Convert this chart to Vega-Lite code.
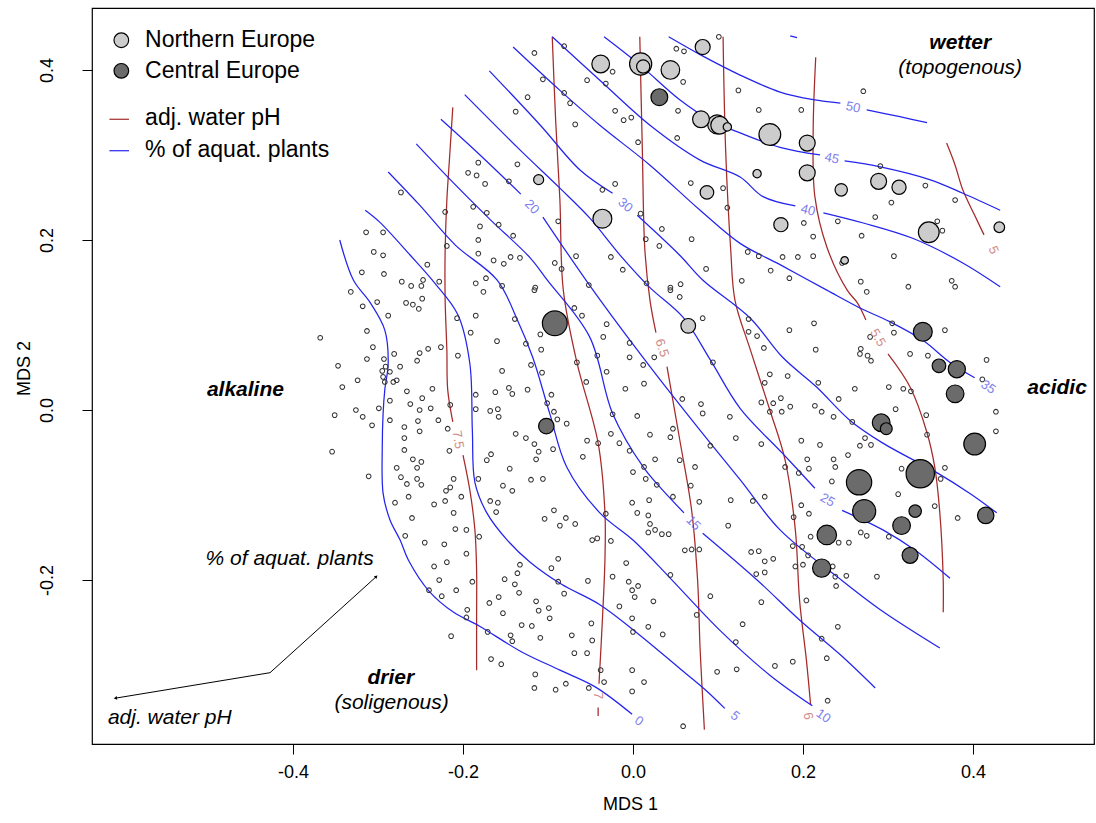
{
"$schema":"https://vega.github.io/schema/vega-lite/v6.json",
"width":1002,"height":736,
"autosize":{"type":"none"},
"padding":{"left":92,"top":8,"right":2,"bottom":79},
"background":"white",
"config":{"view":{"stroke":"#000","strokeWidth":1.2},"font":"Liberation Sans",
"axis":{"grid":false,"domain":false,"tickColor":"#000","tickSize":10,"labelColor":"#000","labelFontSize":18,"titleFontSize":18,"titleFontWeight":"normal","titleColor":"#000","labelFont":"Liberation Sans","titleFont":"Liberation Sans"}},
"datasets":{
"lines":[
{"g":"p75a","v":"pH","i":0,"x":-0.212,"y":0.356},{"g":"p75a","v":"pH","i":1,"x":-0.216,"y":0.294},{"g":"p75a","v":"pH","i":2,"x":-0.219,"y":0.247},{"g":"p75a","v":"pH","i":3,"x":-0.221,"y":0.188},{"g":"p75a","v":"pH","i":4,"x":-0.221,"y":0.129},{"g":"p75a","v":"pH","i":5,"x":-0.219,"y":0.071},{"g":"p75a","v":"pH","i":6,"x":-0.218,"y":0.024},{"g":"p75a","v":"pH","i":7,"x":-0.212,"y":-0.014},
{"g":"p75b","v":"pH","i":0,"x":-0.200,"y":-0.053},{"g":"p75b","v":"pH","i":1,"x":-0.192,"y":-0.094},{"g":"p75b","v":"pH","i":2,"x":-0.186,"y":-0.141},{"g":"p75b","v":"pH","i":3,"x":-0.184,"y":-0.188},{"g":"p75b","v":"pH","i":4,"x":-0.184,"y":-0.247},{"g":"p75b","v":"pH","i":5,"x":-0.184,"y":-0.306},
{"g":"p7a","v":"pH","i":0,"x":-0.095,"y":0.439},{"g":"p7a","v":"pH","i":1,"x":-0.091,"y":0.341},{"g":"p7a","v":"pH","i":2,"x":-0.086,"y":0.247},{"g":"p7a","v":"pH","i":3,"x":-0.082,"y":0.141},{"g":"p7a","v":"pH","i":4,"x":-0.066,"y":0.056},{"g":"p7a","v":"pH","i":5,"x":-0.041,"y":-0.039},{"g":"p7a","v":"pH","i":6,"x":-0.033,"y":-0.121},{"g":"p7a","v":"pH","i":7,"x":-0.033,"y":-0.176},{"g":"p7a","v":"pH","i":8,"x":-0.036,"y":-0.247},{"g":"p7a","v":"pH","i":9,"x":-0.040,"y":-0.322},
{"g":"p7b","v":"pH","i":0,"x":-0.041,"y":-0.350},{"g":"p7b","v":"pH","i":1,"x":-0.041,"y":-0.360},
{"g":"p65a","v":"pH","i":0,"x":0.008,"y":0.439},{"g":"p65a","v":"pH","i":1,"x":0.011,"y":0.306},{"g":"p65a","v":"pH","i":2,"x":0.014,"y":0.188},{"g":"p65a","v":"pH","i":3,"x":0.020,"y":0.129},{"g":"p65a","v":"pH","i":4,"x":0.027,"y":0.091},
{"g":"p65b","v":"pH","i":0,"x":0.040,"y":0.051},{"g":"p65b","v":"pH","i":1,"x":0.055,"y":-0.035},{"g":"p65b","v":"pH","i":2,"x":0.069,"y":-0.118},{"g":"p65b","v":"pH","i":3,"x":0.076,"y":-0.200},{"g":"p65b","v":"pH","i":4,"x":0.079,"y":-0.282},{"g":"p65b","v":"pH","i":5,"x":0.084,"y":-0.376},
{"g":"p6","v":"pH","i":0,"x":0.106,"y":0.439},{"g":"p6","v":"pH","i":1,"x":0.109,"y":0.306},{"g":"p6","v":"pH","i":2,"x":0.115,"y":0.188},{"g":"p6","v":"pH","i":3,"x":0.120,"y":0.129},{"g":"p6","v":"pH","i":4,"x":0.138,"y":0.071},{"g":"p6","v":"pH","i":5,"x":0.161,"y":0.000},{"g":"p6","v":"pH","i":6,"x":0.179,"y":-0.059},{"g":"p6","v":"pH","i":7,"x":0.191,"y":-0.141},{"g":"p6","v":"pH","i":8,"x":0.196,"y":-0.224},{"g":"p6","v":"pH","i":9,"x":0.204,"y":-0.294},{"g":"p6","v":"pH","i":10,"x":0.209,"y":-0.347},
{"g":"p55a","v":"pH","i":0,"x":0.215,"y":0.415},{"g":"p55a","v":"pH","i":1,"x":0.212,"y":0.329},{"g":"p55a","v":"pH","i":2,"x":0.214,"y":0.251},{"g":"p55a","v":"pH","i":3,"x":0.228,"y":0.192},{"g":"p55a","v":"pH","i":4,"x":0.252,"y":0.141},{"g":"p55a","v":"pH","i":5,"x":0.264,"y":0.126},{"g":"p55a","v":"pH","i":6,"x":0.274,"y":0.106},
{"g":"p55b","v":"pH","i":0,"x":0.300,"y":0.066},{"g":"p55b","v":"pH","i":1,"x":0.326,"y":0.027},{"g":"p55b","v":"pH","i":2,"x":0.346,"y":-0.027},{"g":"p55b","v":"pH","i":3,"x":0.355,"y":-0.067},{"g":"p55b","v":"pH","i":4,"x":0.361,"y":-0.121},{"g":"p55b","v":"pH","i":5,"x":0.365,"y":-0.200},{"g":"p55b","v":"pH","i":6,"x":0.365,"y":-0.238},
{"g":"p5","v":"pH","i":0,"x":0.369,"y":0.314},{"g":"p5","v":"pH","i":1,"x":0.379,"y":0.288},{"g":"p5","v":"pH","i":2,"x":0.388,"y":0.259},{"g":"p5","v":"pH","i":3,"x":0.402,"y":0.229},{"g":"p5","v":"pH","i":4,"x":0.413,"y":0.206},
{"g":"a0","v":"aq","i":0,"x":-0.345,"y":0.200},{"g":"a0","v":"aq","i":1,"x":-0.329,"y":0.153},{"g":"a0","v":"aq","i":2,"x":-0.309,"y":0.126},{"g":"a0","v":"aq","i":3,"x":-0.292,"y":0.094},{"g":"a0","v":"aq","i":4,"x":-0.288,"y":0.055},{"g":"a0","v":"aq","i":5,"x":-0.292,"y":0.024},{"g":"a0","v":"aq","i":6,"x":-0.294,"y":-0.004},{"g":"a0","v":"aq","i":7,"x":-0.295,"y":-0.044},{"g":"a0","v":"aq","i":8,"x":-0.294,"y":-0.098},{"g":"a0","v":"aq","i":9,"x":-0.286,"y":-0.129},{"g":"a0","v":"aq","i":10,"x":-0.274,"y":-0.153},{"g":"a0","v":"aq","i":11,"x":-0.264,"y":-0.177},{"g":"a0","v":"aq","i":12,"x":-0.240,"y":-0.213},{"g":"a0","v":"aq","i":13,"x":-0.211,"y":-0.238},{"g":"a0","v":"aq","i":14,"x":-0.181,"y":-0.254},{"g":"a0","v":"aq","i":15,"x":-0.132,"y":-0.284},{"g":"a0","v":"aq","i":16,"x":-0.086,"y":-0.306},{"g":"a0","v":"aq","i":17,"x":-0.044,"y":-0.326},{"g":"a0","v":"aq","i":18,"x":-0.001,"y":-0.358},
{"g":"a5","v":"aq","i":0,"x":-0.315,"y":0.235},{"g":"a5","v":"aq","i":1,"x":-0.298,"y":0.221},{"g":"a5","v":"aq","i":2,"x":-0.262,"y":0.182},{"g":"a5","v":"aq","i":3,"x":-0.233,"y":0.149},{"g":"a5","v":"aq","i":4,"x":-0.206,"y":0.112},{"g":"a5","v":"aq","i":5,"x":-0.192,"y":0.055},{"g":"a5","v":"aq","i":6,"x":-0.189,"y":-0.024},{"g":"a5","v":"aq","i":7,"x":-0.186,"y":-0.085},{"g":"a5","v":"aq","i":8,"x":-0.172,"y":-0.121},{"g":"a5","v":"aq","i":9,"x":-0.148,"y":-0.153},{"g":"a5","v":"aq","i":10,"x":-0.121,"y":-0.179},{"g":"a5","v":"aq","i":11,"x":-0.084,"y":-0.205},{"g":"a5","v":"aq","i":12,"x":-0.039,"y":-0.229},{"g":"a5","v":"aq","i":13,"x":0.007,"y":-0.264},{"g":"a5","v":"aq","i":14,"x":0.055,"y":-0.304},{"g":"a5","v":"aq","i":15,"x":0.085,"y":-0.329},{"g":"a5","v":"aq","i":16,"x":0.108,"y":-0.351},
{"g":"a10","v":"aq","i":0,"x":-0.288,"y":0.280},{"g":"a10","v":"aq","i":1,"x":-0.251,"y":0.241},{"g":"a10","v":"aq","i":2,"x":-0.209,"y":0.194},{"g":"a10","v":"aq","i":3,"x":-0.160,"y":0.153},{"g":"a10","v":"aq","i":4,"x":-0.136,"y":0.106},{"g":"a10","v":"aq","i":5,"x":-0.118,"y":0.062},{"g":"a10","v":"aq","i":6,"x":-0.098,"y":-0.004},{"g":"a10","v":"aq","i":7,"x":-0.078,"y":-0.067},{"g":"a10","v":"aq","i":8,"x":-0.039,"y":-0.121},{"g":"a10","v":"aq","i":9,"x":0.000,"y":-0.153},{"g":"a10","v":"aq","i":10,"x":0.044,"y":-0.198},{"g":"a10","v":"aq","i":11,"x":0.102,"y":-0.259},{"g":"a10","v":"aq","i":12,"x":0.161,"y":-0.312},{"g":"a10","v":"aq","i":13,"x":0.211,"y":-0.348},
{"g":"a15a","v":"aq","i":0,"x":-0.255,"y":0.313},{"g":"a15a","v":"aq","i":1,"x":-0.215,"y":0.271},{"g":"a15a","v":"aq","i":2,"x":-0.168,"y":0.224},{"g":"a15a","v":"aq","i":3,"x":-0.121,"y":0.179},{"g":"a15a","v":"aq","i":4,"x":-0.101,"y":0.153},{"g":"a15a","v":"aq","i":5,"x":-0.051,"y":0.086},{"g":"a15a","v":"aq","i":6,"x":-0.024,"y":-0.004},{"g":"a15a","v":"aq","i":7,"x":0.012,"y":-0.067},{"g":"a15a","v":"aq","i":8,"x":0.032,"y":-0.091},{"g":"a15a","v":"aq","i":9,"x":0.060,"y":-0.121},
{"g":"a15b","v":"aq","i":0,"x":0.082,"y":-0.145},{"g":"a15b","v":"aq","i":1,"x":0.146,"y":-0.200},{"g":"a15b","v":"aq","i":2,"x":0.196,"y":-0.247},{"g":"a15b","v":"aq","i":3,"x":0.244,"y":-0.288},{"g":"a15b","v":"aq","i":4,"x":0.285,"y":-0.327},
{"g":"a20a","v":"aq","i":0,"x":-0.226,"y":0.342},{"g":"a20a","v":"aq","i":1,"x":-0.180,"y":0.300},{"g":"a20a","v":"aq","i":2,"x":-0.132,"y":0.254},
{"g":"a20b","v":"aq","i":0,"x":-0.106,"y":0.227},{"g":"a20b","v":"aq","i":1,"x":-0.047,"y":0.141},{"g":"a20b","v":"aq","i":2,"x":0.020,"y":0.051},{"g":"a20b","v":"aq","i":3,"x":0.079,"y":-0.024},{"g":"a20b","v":"aq","i":4,"x":0.126,"y":-0.082},{"g":"a20b","v":"aq","i":5,"x":0.173,"y":-0.141},{"g":"a20b","v":"aq","i":6,"x":0.240,"y":-0.196},{"g":"a20b","v":"aq","i":7,"x":0.291,"y":-0.235},{"g":"a20b","v":"aq","i":8,"x":0.361,"y":-0.280},
{"g":"a25a","v":"aq","i":0,"x":-0.198,"y":0.371},{"g":"a25a","v":"aq","i":1,"x":-0.133,"y":0.306},{"g":"a25a","v":"aq","i":2,"x":-0.086,"y":0.261},{"g":"a25a","v":"aq","i":3,"x":-0.051,"y":0.226},{"g":"a25a","v":"aq","i":4,"x":-0.015,"y":0.182},{"g":"a25a","v":"aq","i":5,"x":0.020,"y":0.144},{"g":"a25a","v":"aq","i":6,"x":0.059,"y":0.109},{"g":"a25a","v":"aq","i":7,"x":0.091,"y":0.059},{"g":"a25a","v":"aq","i":8,"x":0.126,"y":0.002},{"g":"a25a","v":"aq","i":9,"x":0.176,"y":-0.051},{"g":"a25a","v":"aq","i":10,"x":0.214,"y":-0.092},
{"g":"a25b","v":"aq","i":0,"x":0.246,"y":-0.118},{"g":"a25b","v":"aq","i":1,"x":0.294,"y":-0.141},{"g":"a25b","v":"aq","i":2,"x":0.332,"y":-0.165},{"g":"a25b","v":"aq","i":3,"x":0.373,"y":-0.198},
{"g":"a30a","v":"aq","i":0,"x":-0.169,"y":0.399},{"g":"a30a","v":"aq","i":1,"x":-0.109,"y":0.335},{"g":"a30a","v":"aq","i":2,"x":-0.062,"y":0.282},{"g":"a30a","v":"aq","i":3,"x":-0.024,"y":0.255},
{"g":"a30b","v":"aq","i":0,"x":0.005,"y":0.229},{"g":"a30b","v":"aq","i":1,"x":0.055,"y":0.182},{"g":"a30b","v":"aq","i":2,"x":0.082,"y":0.153},{"g":"a30b","v":"aq","i":3,"x":0.138,"y":0.108},{"g":"a30b","v":"aq","i":4,"x":0.176,"y":0.062},{"g":"a30b","v":"aq","i":5,"x":0.216,"y":0.027},{"g":"a30b","v":"aq","i":6,"x":0.255,"y":-0.012},{"g":"a30b","v":"aq","i":7,"x":0.294,"y":-0.039},{"g":"a30b","v":"aq","i":8,"x":0.358,"y":-0.074},{"g":"a30b","v":"aq","i":9,"x":0.396,"y":-0.098},{"g":"a30b","v":"aq","i":10,"x":0.428,"y":-0.121},
{"g":"a35","v":"aq","i":0,"x":-0.141,"y":0.427},{"g":"a35","v":"aq","i":1,"x":-0.086,"y":0.376},{"g":"a35","v":"aq","i":2,"x":-0.039,"y":0.335},{"g":"a35","v":"aq","i":3,"x":0.020,"y":0.288},{"g":"a35","v":"aq","i":4,"x":0.079,"y":0.235},{"g":"a35","v":"aq","i":5,"x":0.126,"y":0.196},{"g":"a35","v":"aq","i":6,"x":0.173,"y":0.171},{"g":"a35","v":"aq","i":7,"x":0.228,"y":0.141},{"g":"a35","v":"aq","i":8,"x":0.267,"y":0.120},{"g":"a35","v":"aq","i":9,"x":0.302,"y":0.104},{"g":"a35","v":"aq","i":10,"x":0.341,"y":0.082},{"g":"a35","v":"aq","i":11,"x":0.373,"y":0.056},{"g":"a35","v":"aq","i":12,"x":0.402,"y":0.038},
{"g":"a40a","v":"aq","i":0,"x":-0.095,"y":0.439},{"g":"a40a","v":"aq","i":1,"x":-0.039,"y":0.388},{"g":"a40a","v":"aq","i":2,"x":0.020,"y":0.335},{"g":"a40a","v":"aq","i":3,"x":0.079,"y":0.294},{"g":"a40a","v":"aq","i":4,"x":0.126,"y":0.274},{"g":"a40a","v":"aq","i":5,"x":0.153,"y":0.251},{"g":"a40a","v":"aq","i":6,"x":0.191,"y":0.240},
{"g":"a40b","v":"aq","i":0,"x":0.224,"y":0.232},{"g":"a40b","v":"aq","i":1,"x":0.271,"y":0.220},{"g":"a40b","v":"aq","i":2,"x":0.329,"y":0.202},{"g":"a40b","v":"aq","i":3,"x":0.388,"y":0.173},{"g":"a40b","v":"aq","i":4,"x":0.432,"y":0.145},
{"g":"a45a","v":"aq","i":0,"x":-0.034,"y":0.439},{"g":"a45a","v":"aq","i":1,"x":0.008,"y":0.406},{"g":"a45a","v":"aq","i":2,"x":0.055,"y":0.365},{"g":"a45a","v":"aq","i":3,"x":0.091,"y":0.341},{"g":"a45a","v":"aq","i":4,"x":0.126,"y":0.326},{"g":"a45a","v":"aq","i":5,"x":0.173,"y":0.309},{"g":"a45a","v":"aq","i":6,"x":0.220,"y":0.300},
{"g":"a45b","v":"aq","i":0,"x":0.249,"y":0.293},{"g":"a45b","v":"aq","i":1,"x":0.291,"y":0.286},{"g":"a45b","v":"aq","i":2,"x":0.349,"y":0.271},{"g":"a45b","v":"aq","i":3,"x":0.388,"y":0.255},{"g":"a45b","v":"aq","i":4,"x":0.432,"y":0.235},
{"g":"a50a","v":"aq","i":0,"x":0.042,"y":0.439},{"g":"a50a","v":"aq","i":1,"x":0.079,"y":0.418},{"g":"a50a","v":"aq","i":2,"x":0.126,"y":0.394},{"g":"a50a","v":"aq","i":3,"x":0.173,"y":0.374},{"g":"a50a","v":"aq","i":4,"x":0.212,"y":0.365},{"g":"a50a","v":"aq","i":5,"x":0.244,"y":0.361},
{"g":"a50b","v":"aq","i":0,"x":0.275,"y":0.353},{"g":"a50b","v":"aq","i":1,"x":0.314,"y":0.345},{"g":"a50b","v":"aq","i":2,"x":0.346,"y":0.338},
{"g":"a55","v":"aq","i":0,"x":0.185,"y":0.440},{"g":"a55","v":"aq","i":1,"x":0.193,"y":0.438}
],
"clab":[
{"k":"a0","v":"aq","t":"0","x":0.007,"y":-0.366},{"k":"a5","v":"aq","t":"5","x":0.120,"y":-0.360},{"k":"a10","v":"aq","t":"10","x":0.224,"y":-0.360},{"k":"a15","v":"aq","t":"15","x":0.071,"y":-0.133},{"k":"a20","v":"aq","t":"20","x":-0.119,"y":0.239},{"k":"a25","v":"aq","t":"25","x":0.229,"y":-0.106},{"k":"a30","v":"aq","t":"30","x":-0.009,"y":0.241},{"k":"a35","v":"aq","t":"35","x":0.418,"y":0.027},{"k":"a40","v":"aq","t":"40","x":0.206,"y":0.235},{"k":"a45","v":"aq","t":"45","x":0.234,"y":0.296},{"k":"a50","v":"aq","t":"50","x":0.259,"y":0.356},
{"k":"p75","v":"pH","t":"7.5","x":-0.206,"y":-0.035},{"k":"p7","v":"pH","t":"7","x":-0.041,"y":-0.336},{"k":"p65","v":"pH","t":"6.5","x":0.034,"y":0.073},{"k":"p6","v":"pH","t":"6","x":0.206,"y":-0.360},{"k":"p55","v":"pH","t":"5.5","x":0.288,"y":0.085},{"k":"p5","v":"pH","t":"5","x":0.424,"y":0.188}
],
"big":[
{"r":"N","n":100,"x":-0.038,"y":0.407},{"r":"N","n":156,"x":0.009,"y":0.407},{"r":"N","n":56,"x":0.012,"y":0.404},{"r":"N","n":110,"x":0.044,"y":0.400},{"r":"N","n":72,"x":0.082,"y":0.427},{"r":"N","n":90,"x":0.080,"y":0.342},{"r":"N","n":114,"x":0.099,"y":0.336},{"r":"N","n":100,"x":0.102,"y":0.335},{"r":"N","n":22,"x":0.111,"y":0.333},{"r":"N","n":32,"x":-0.111,"y":0.271},{"r":"N","n":114,"x":-0.036,"y":0.225},{"r":"N","n":59,"x":0.087,"y":0.256},{"r":"N","n":151,"x":0.161,"y":0.324},{"r":"N","n":81,"x":0.205,"y":0.314},{"r":"N","n":81,"x":0.205,"y":0.279},{"r":"N","n":22,"x":0.146,"y":0.278},{"r":"N","n":49,"x":0.245,"y":0.259},{"r":"N","n":81,"x":0.289,"y":0.269},{"r":"N","n":64,"x":0.313,"y":0.262},{"r":"N","n":64,"x":0.174,"y":0.218},{"r":"N","n":137,"x":0.348,"y":0.209},{"r":"N","n":36,"x":0.431,"y":0.215},{"r":"N","n":18,"x":0.249,"y":0.176},{"r":"N","n":69,"x":0.065,"y":0.099},
{"r":"C","n":90,"x":0.031,"y":0.368},{"r":"C","n":196,"x":-0.092,"y":0.102},{"r":"C","n":76,"x":-0.102,"y":-0.019},{"r":"C","n":114,"x":0.341,"y":0.092},{"r":"C","n":59,"x":0.360,"y":0.052},{"r":"C","n":94,"x":0.381,"y":0.048},{"r":"C","n":100,"x":0.379,"y":0.019},{"r":"C","n":100,"x":0.292,"y":-0.015},{"r":"C","n":45,"x":0.298,"y":-0.022},{"r":"C","n":151,"x":0.402,"y":-0.040},{"r":"C","n":204,"x":0.266,"y":-0.085},{"r":"C","n":256,"x":0.338,"y":-0.075},{"r":"C","n":169,"x":0.272,"y":-0.119},{"r":"C","n":49,"x":0.332,"y":-0.119},{"r":"C","n":100,"x":0.316,"y":-0.136},{"r":"C","n":86,"x":0.415,"y":-0.124},{"r":"C","n":121,"x":0.228,"y":-0.147},{"r":"C","n":81,"x":0.326,"y":-0.171},{"r":"C","n":106,"x":0.222,"y":-0.186}
],
"pts":[
{"x":-0.116,"y":0.420},{"x":-0.081,"y":0.428},{"x":-0.106,"y":0.389},{"x":-0.124,"y":0.368},{"x":-0.138,"y":0.351},{"x":-0.081,"y":0.373},{"x":-0.074,"y":0.361},{"x":-0.068,"y":0.336},{"x":-0.054,"y":0.388},{"x":-0.032,"y":0.384},{"x":-0.024,"y":0.398},{"x":-0.021,"y":0.352},{"x":-0.011,"y":0.341},{"x":-0.002,"y":0.344},{"x":0.006,"y":0.315},{"x":0.052,"y":0.320},{"x":0.053,"y":0.352},{"x":0.059,"y":0.386},{"x":0.051,"y":0.425},{"x":0.060,"y":0.422},{"x":0.101,"y":0.439},{"x":0.124,"y":0.376},{"x":-0.182,"y":0.291},{"x":-0.194,"y":0.279},{"x":-0.184,"y":0.276},{"x":-0.174,"y":0.266},{"x":-0.136,"y":0.289},{"x":-0.146,"y":0.269},{"x":-0.273,"y":0.256},{"x":-0.221,"y":0.233},{"x":-0.188,"y":0.239},{"x":-0.172,"y":0.232},{"x":-0.180,"y":0.216},{"x":-0.158,"y":0.218},{"x":-0.182,"y":0.200},{"x":-0.141,"y":0.205},{"x":-0.182,"y":0.184},{"x":-0.164,"y":0.176},{"x":-0.152,"y":0.172},{"x":-0.144,"y":0.180},{"x":-0.133,"y":0.179},{"x":-0.219,"y":0.193},{"x":-0.242,"y":0.171},{"x":-0.228,"y":0.151},{"x":-0.247,"y":0.153},{"x":-0.261,"y":0.146},{"x":-0.272,"y":0.151},{"x":-0.249,"y":0.146},{"x":-0.294,"y":0.209},{"x":-0.294,"y":0.182},{"x":-0.293,"y":0.160},{"x":-0.173,"y":0.155},{"x":-0.185,"y":0.149},{"x":-0.154,"y":0.146},{"x":-0.115,"y":0.144},{"x":-0.092,"y":0.173},{"x":-0.084,"y":0.166},{"x":-0.088,"y":0.222},{"x":-0.067,"y":0.181},{"x":-0.052,"y":0.147},{"x":-0.036,"y":0.259},{"x":-0.021,"y":0.266},{"x":-0.026,"y":0.180},{"x":-0.012,"y":0.165},{"x":0.015,"y":0.201},{"x":0.031,"y":0.193},{"x":0.034,"y":0.213},{"x":0.009,"y":0.231},{"x":0.068,"y":0.267},{"x":0.106,"y":0.261},{"x":0.111,"y":0.238},{"x":0.069,"y":0.201},{"x":0.086,"y":0.166},{"x":0.056,"y":0.148},{"x":0.044,"y":0.144},{"x":-0.305,"y":0.186},{"x":-0.319,"y":0.162},{"x":-0.332,"y":0.139},{"x":-0.314,"y":0.209},
{"x":0.271,"y":0.375},{"x":0.148,"y":0.353},{"x":0.198,"y":0.353},{"x":0.291,"y":0.287},{"x":0.344,"y":0.264},{"x":0.304,"y":0.244},{"x":0.379,"y":0.247},{"x":0.285,"y":0.227},{"x":0.201,"y":0.220},{"x":0.241,"y":0.222},{"x":0.212,"y":0.204},{"x":0.269,"y":0.205},{"x":0.358,"y":0.222},{"x":0.364,"y":0.211},{"x":0.135,"y":0.186},{"x":0.148,"y":0.181},{"x":0.176,"y":0.180},{"x":0.194,"y":0.180},{"x":0.212,"y":0.181},{"x":0.246,"y":0.173},{"x":0.307,"y":0.181},{"x":0.162,"y":0.164},{"x":0.184,"y":0.155},{"x":0.128,"y":0.152},{"x":0.268,"y":0.151},{"x":0.324,"y":0.145},{"x":0.375,"y":0.152},{"x":0.379,"y":0.145},
{"x":0.044,"y":0.141},{"x":0.055,"y":0.133},{"x":0.082,"y":0.108},{"x":0.136,"y":0.107},{"x":0.136,"y":0.092},{"x":0.146,"y":0.087},{"x":0.154,"y":0.073},{"x":0.184,"y":0.094},{"x":0.213,"y":0.102},{"x":0.215,"y":0.071},{"x":0.275,"y":0.139},{"x":0.367,"y":0.094},{"x":0.305,"y":0.102},{"x":0.307,"y":0.091},{"x":0.279,"y":0.086},{"x":0.326,"y":0.066},{"x":0.347,"y":0.064},{"x":0.268,"y":0.072},{"x":0.267,"y":0.066},{"x":0.276,"y":0.064},{"x":0.280,"y":0.058},{"x":0.416,"y":0.059},{"x":0.411,"y":0.036},{"x":0.094,"y":0.056},{"x":0.025,"y":0.062},{"x":0.058,"y":0.013},{"x":0.080,"y":0.007},{"x":0.082,"y":-0.004},{"x":0.114,"y":-0.008},{"x":0.151,"y":0.009},{"x":0.165,"y":0.008},{"x":0.174,"y":0.014},{"x":0.185,"y":0.004},{"x":0.161,"y":-0.002},{"x":0.175,"y":-0.002},{"x":0.161,"y":0.042},{"x":0.155,"y":0.032},{"x":0.182,"y":0.040},{"x":0.218,"y":0.032},{"x":0.261,"y":0.025},{"x":0.242,"y":0.013},{"x":0.301,"y":0.027},{"x":0.318,"y":0.025},{"x":0.327,"y":0.022},{"x":0.214,"y":0.005},{"x":0.222,"y":-0.002},{"x":0.236,"y":-0.008},{"x":0.258,"y":-0.014},{"x":0.309,"y":0.001},{"x":0.345,"y":-0.006},{"x":0.427,"y":-0.002},{"x":0.427,"y":-0.025},{"x":0.346,"y":-0.029},{"x":0.273,"y":-0.033},{"x":0.267,"y":-0.042},{"x":0.280,"y":-0.041},{"x":0.198,"y":-0.036},{"x":0.220,"y":-0.041},{"x":0.253,"y":-0.053},{"x":0.236,"y":-0.058},{"x":0.238,"y":-0.067},{"x":0.234,"y":-0.084},{"x":0.205,"y":-0.058},{"x":0.207,"y":-0.069},{"x":0.195,"y":-0.074},{"x":0.179,"y":-0.067},{"x":0.151,"y":-0.040},{"x":0.121,"y":-0.033},{"x":0.091,"y":-0.042},{"x":0.047,"y":-0.022},{"x":0.044,"y":-0.032},{"x":0.026,"y":-0.058},{"x":0.055,"y":-0.059},{"x":0.073,"y":-0.067},{"x":0.028,"y":-0.088},{"x":0.047,"y":-0.102},{"x":0.068,"y":-0.089},{"x":0.078,"y":-0.108},{"x":0.115,"y":-0.106},{"x":0.141,"y":-0.107},{"x":0.155,"y":-0.102},{"x":0.198,"y":-0.112},{"x":0.207,"y":-0.122},{"x":0.189,"y":-0.126},{"x":0.312,"y":-0.099},{"x":0.316,"y":-0.069},{"x":0.367,"y":-0.068},{"x":0.362,"y":-0.081},{"x":0.355,"y":-0.113},{"x":0.382,"y":-0.127},{"x":0.301,"y":-0.149},{"x":0.275,"y":-0.148},{"x":0.268,"y":-0.144},{"x":0.209,"y":-0.149},{"x":0.199,"y":-0.161},{"x":0.206,"y":-0.171},{"x":0.200,"y":-0.182},{"x":0.235,"y":-0.184},{"x":0.251,"y":-0.195},{"x":0.254,"y":-0.156},{"x":0.287,"y":-0.196},{"x":0.155,"y":-0.191},{"x":0.165,"y":-0.175},{"x":0.148,"y":-0.166},{"x":0.112,"y":-0.136},{"x":0.078,"y":-0.164},{"x":0.069,"y":-0.164},{"x":0.026,"y":-0.141},{"x":0.042,"y":-0.146},{"x":0.044,"y":-0.194},
{"x":-0.268,"y":-0.148},{"x":-0.245,"y":-0.156},{"x":-0.222,"y":-0.158},{"x":-0.196,"y":-0.169},{"x":-0.234,"y":-0.184},{"x":-0.219,"y":-0.179},{"x":-0.228,"y":-0.200},{"x":-0.225,"y":-0.219},{"x":-0.240,"y":-0.212},{"x":-0.208,"y":-0.212},{"x":-0.189,"y":-0.202},{"x":-0.195,"y":-0.235},{"x":-0.196,"y":-0.244},{"x":-0.214,"y":-0.266},{"x":-0.171,"y":-0.261},{"x":-0.167,"y":-0.293},{"x":-0.155,"y":-0.299},{"x":-0.169,"y":-0.227},{"x":-0.153,"y":-0.239},{"x":-0.158,"y":-0.220},{"x":-0.151,"y":-0.199},{"x":-0.139,"y":-0.205},{"x":-0.134,"y":-0.215},{"x":-0.136,"y":-0.192},{"x":-0.133,"y":-0.182},{"x":-0.096,"y":-0.186},{"x":-0.088,"y":-0.175},{"x":-0.088,"y":-0.202},{"x":-0.081,"y":-0.216},{"x":-0.114,"y":-0.225},{"x":-0.111,"y":-0.236},{"x":-0.099,"y":-0.233},{"x":-0.098,"y":-0.245},{"x":-0.131,"y":-0.253},{"x":-0.119,"y":-0.254},{"x":-0.109,"y":-0.268},{"x":-0.144,"y":-0.265},{"x":-0.142,"y":-0.272},{"x":-0.072,"y":-0.265},{"x":-0.069,"y":-0.286},{"x":-0.054,"y":-0.286},{"x":-0.049,"y":-0.251},{"x":-0.048,"y":-0.271},{"x":-0.053,"y":-0.201},{"x":-0.048,"y":-0.153},{"x":-0.026,"y":-0.154},{"x":-0.008,"y":-0.180},{"x":-0.024,"y":-0.196},{"x":-0.005,"y":-0.202},{"x":0.006,"y":-0.207},{"x":-0.001,"y":-0.212},{"x":0.002,"y":-0.220},{"x":-0.016,"y":-0.231},{"x":-0.001,"y":-0.245},{"x":0.000,"y":-0.261},{"x":0.018,"y":-0.255},{"x":0.035,"y":-0.264},{"x":0.024,"y":-0.225},{"x":0.018,"y":-0.144},{"x":0.034,"y":-0.146},{"x":0.061,"y":-0.165},{"x":0.075,"y":-0.241},{"x":0.091,"y":-0.219},{"x":0.129,"y":-0.252},{"x":0.139,"y":-0.167},{"x":0.155,"y":-0.178},{"x":0.145,"y":-0.193},{"x":0.151,"y":-0.226},{"x":0.121,"y":-0.273},{"x":0.167,"y":-0.301},{"x":0.188,"y":-0.296},{"x":0.099,"y":-0.308},{"x":0.122,"y":-0.305},{"x":0.059,"y":-0.372},{"x":-0.001,"y":-0.306},{"x":0.013,"y":-0.320},{"x":-0.001,"y":-0.331},{"x":-0.034,"y":-0.320},{"x":-0.038,"y":-0.306},{"x":-0.052,"y":-0.327},{"x":-0.079,"y":-0.322},{"x":-0.091,"y":-0.329},{"x":-0.116,"y":-0.327},{"x":-0.115,"y":-0.311},{"x":0.204,"y":-0.224},{"x":0.222,"y":-0.269},{"x":0.228,"y":-0.292},{"x":0.241,"y":-0.255},{"x":0.229,"y":-0.342},{"x":0.242,"y":-0.156},{"x":0.238,"y":-0.196},{"x":0.239,"y":-0.207},{"x":0.188,"y":-0.160},{"x":0.191,"y":-0.184},{"x":0.224,"y":-0.186},
{"x":-0.176,"y":0.139},{"x":-0.301,"y":0.127},{"x":-0.318,"y":0.122},{"x":-0.267,"y":0.126},{"x":-0.259,"y":0.124},{"x":-0.252,"y":0.119},{"x":-0.248,"y":0.131},{"x":-0.288,"y":0.111},{"x":-0.313,"y":0.093},{"x":-0.306,"y":0.074},{"x":-0.313,"y":0.060},{"x":-0.293,"y":0.060},{"x":-0.291,"y":0.051},{"x":-0.347,"y":0.052},{"x":-0.368,"y":0.085},{"x":-0.342,"y":0.027},{"x":-0.324,"y":0.035},{"x":-0.295,"y":0.046},{"x":-0.294,"y":0.039},{"x":-0.286,"y":0.045},{"x":-0.292,"y":0.033},{"x":-0.282,"y":0.033},{"x":-0.278,"y":0.035},{"x":-0.281,"y":0.066},{"x":-0.274,"y":0.051},{"x":-0.266,"y":0.022},{"x":-0.251,"y":0.067},{"x":-0.254,"y":0.058},{"x":-0.241,"y":0.072},{"x":-0.226,"y":0.074},{"x":-0.206,"y":0.064},{"x":-0.207,"y":0.108},{"x":-0.191,"y":0.091},{"x":-0.185,"y":0.111},{"x":-0.236,"y":0.025},{"x":-0.248,"y":0.014},{"x":-0.262,"y":0.007},{"x":-0.251,"y":0.000},{"x":-0.238,"y":0.002},{"x":-0.229,"y":-0.012},{"x":-0.253,"y":-0.013},{"x":-0.269,"y":-0.020},{"x":-0.269,"y":-0.033},{"x":-0.251,"y":-0.025},{"x":-0.286,"y":-0.012},{"x":-0.299,"y":0.002},{"x":-0.307,"y":-0.018},{"x":-0.318,"y":-0.008},{"x":-0.351,"y":-0.006},{"x":-0.326,"y":0.000},{"x":-0.286,"y":0.011},{"x":-0.218,"y":-0.022},{"x":-0.216,"y":-0.048},{"x":-0.215,"y":0.006},{"x":-0.269,"y":-0.047},{"x":-0.259,"y":-0.058},{"x":-0.249,"y":-0.061},{"x":-0.254,"y":-0.068},{"x":-0.278,"y":-0.068},{"x":-0.273,"y":-0.079},{"x":-0.254,"y":-0.081},{"x":-0.249,"y":-0.088},{"x":-0.266,"y":-0.087},{"x":-0.211,"y":-0.081},{"x":-0.215,"y":-0.091},{"x":-0.220,"y":-0.095},{"x":-0.202,"y":-0.102},{"x":-0.221,"y":-0.107},{"x":-0.234,"y":-0.111},{"x":-0.264,"y":-0.102},{"x":-0.280,"y":-0.109},{"x":-0.260,"y":-0.127},{"x":-0.311,"y":-0.078},{"x":-0.354,"y":-0.049},{"x":-0.211,"y":-0.121},{"x":-0.209,"y":-0.140},{"x":-0.196,"y":-0.141},{"x":-0.185,"y":0.018},{"x":-0.185,"y":0.001},{"x":-0.168,"y":-0.001},{"x":-0.159,"y":0.001},{"x":-0.158,"y":-0.008},{"x":-0.162,"y":0.021},{"x":-0.146,"y":0.026},{"x":-0.142,"y":0.019},{"x":-0.124,"y":0.024},{"x":-0.154,"y":0.046},{"x":-0.160,"y":0.081},{"x":-0.139,"y":0.107},{"x":-0.126,"y":0.078},{"x":-0.108,"y":0.071},{"x":-0.109,"y":0.089},{"x":-0.120,"y":0.053},{"x":-0.107,"y":0.044},{"x":-0.096,"y":0.018},{"x":-0.101,"y":0.008},{"x":-0.093,"y":-0.002},{"x":-0.089,"y":-0.011},{"x":-0.078,"y":-0.016},{"x":-0.138,"y":-0.028},{"x":-0.126,"y":-0.033},{"x":-0.116,"y":-0.040},{"x":-0.111,"y":-0.049},{"x":-0.114,"y":-0.058},{"x":-0.094,"y":-0.046},{"x":-0.106,"y":-0.081},{"x":-0.120,"y":-0.082},{"x":-0.145,"y":-0.069},{"x":-0.153,"y":-0.089},{"x":-0.142,"y":-0.095},{"x":-0.167,"y":-0.052},{"x":-0.172,"y":-0.059},{"x":-0.182,"y":-0.081},{"x":-0.168,"y":-0.107},{"x":-0.159,"y":-0.109},{"x":-0.161,"y":-0.120},{"x":-0.181,"y":-0.149},{"x":-0.093,"y":-0.118},{"x":-0.104,"y":-0.128},{"x":-0.079,"y":-0.127},{"x":-0.086,"y":-0.136},{"x":-0.068,"y":-0.134},{"x":-0.116,"y":0.141},{"x":-0.069,"y":0.120},{"x":-0.060,"y":0.111},{"x":-0.066,"y":0.056},{"x":-0.055,"y":0.033},{"x":-0.059,"y":-0.055},{"x":-0.054,"y":-0.036},{"x":-0.041,"y":-0.039},{"x":-0.031,"y":0.101},{"x":-0.035,"y":0.086},{"x":-0.042,"y":0.064},{"x":-0.031,"y":0.045},{"x":-0.004,"y":0.079},{"x":-0.004,"y":0.062},{"x":0.012,"y":0.053},{"x":0.013,"y":0.031},{"x":-0.009,"y":0.025},{"x":0.005,"y":-0.007},{"x":-0.016,"y":-0.039},{"x":-0.024,"y":-0.005},{"x":-0.026,"y":-0.028},{"x":-0.004,"y":-0.048},{"x":0.000,"y":-0.073},{"x":0.013,"y":-0.067},{"x":0.020,"y":-0.029},{"x":0.015,"y":-0.081},{"x":-0.001,"y":-0.109},{"x":0.005,"y":-0.121},{"x":0.018,"y":-0.124},{"x":0.020,"y":-0.134},{"x":0.019,"y":-0.106},{"x":-0.032,"y":-0.122},{"x":-0.042,"y":-0.151},{"x":0.016,"y":0.149}
],
"arrow":[{"s":"aq","i":0,"x":-0.427,"y":-0.309},{"s":"aq","i":1,"x":-0.302,"y":-0.196},{"s":"ph","i":0,"x":-0.427,"y":-0.309},{"s":"ph","i":1,"x":-0.609,"y":-0.339}],
"annb":[{"t":"wetter","x":0.385,"y":0.432},{"t":"alkaline","x":-0.456,"y":0.024},{"t":"acidic","x":0.499,"y":0.026},{"t":"drier","x":-0.285,"y":-0.315}],
"anni":[{"t":"(topogenous)","x":0.385,"y":0.402},{"t":"(soligenous)","x":-0.284,"y":-0.345},{"t":"% of aquat. plants","x":-0.404,"y":-0.175},{"t":"adj. water pH","x":-0.545,"y":-0.362}],
"legc":[{"r":"N","x":-0.602,"y":0.435},{"r":"C","x":-0.602,"y":0.399}],
"legr":[{"v":"pH","x":-0.616,"x2":-0.593,"y":0.342},{"v":"aq","x":-0.616,"x2":-0.593,"y":0.305}],
"legt":[{"t":"Northern Europe","x":-0.574,"y":0.435},{"t":"Central Europe","x":-0.574,"y":0.399},{"t":"adj. water pH","x":-0.574,"y":0.344},{"t":"% of aquat. plants","x":-0.574,"y":0.306}]
},
"encoding":{
"x":{"field":"x","type":"quantitative","scale":{"domain":[-0.6365,0.5424],"nice":false,"zero":false},
"axis":{"values":[-0.4,-0.2,0,0.2,0.4],"labelExpr":"(datum.value < 0 ? '-' : '') + format(abs(datum.value), '.1f')","labelPadding":9,"title":"MDS 1","titlePadding":14,"titleX":538}},
"y":{"field":"y","type":"quantitative","scale":{"domain":[-0.3929,0.4729],"nice":false,"zero":false},
"axis":{"values":[-0.2,0,0.2,0.4],"labelExpr":"(datum.value < 0 ? '-' : '') + format(abs(datum.value), '.1f')","labelAngle":270,"labelAlign":"center","labelBaseline":"middle","labelPadding":35,"title":"MDS 2","titleAngle":270,"titleX":-68,"titleY":360,"titleAlign":"center","titleBaseline":"middle"}}
},
"layer":[
{"data":{"name":"lines"},"mark":{"type":"line","strokeWidth":1.25,"interpolate":"catmull-rom"},
"encoding":{"detail":{"field":"g"},"order":{"field":"i","type":"quantitative"},"stroke":{"field":"v","type":"nominal","scale":{"domain":["pH","aq"],"range":["#a52a2a","#2424ee"]},"legend":null}}},
{"data":{"name":"pts"},"mark":{"type":"point","shape":"circle","filled":false,"size":22,"stroke":"#333333","strokeWidth":1.05,"opacity":1}},
{"data":{"name":"big"},"mark":{"type":"point","shape":"circle","filled":true,"stroke":"#000","strokeWidth":1.2,"opacity":1},
"encoding":{"fill":{"field":"r","type":"nominal","scale":{"domain":["N","C"],"range":["#cccccc","#6b6b6b"]},"legend":null},
"size":{"field":"n","type":"quantitative","scale":{"type":"linear","domain":[0,256],"range":[0,804]},"legend":null},
"order":{"field":"n","type":"quantitative","sort":"descending"}}},
{"data":{"name":"clab"},"mark":{"type":"text","fontSize":13,"align":"center","baseline":"middle"},
"encoding":{"text":{"field":"t"},"color":{"field":"v","type":"nominal","scale":{"domain":["pH","aq"],"range":["#cf8a86","#8080ee"]},"legend":null},
"angle":{"field":"k","type":"ordinal","scale":{"type":"ordinal","domain":["a0","a5","a10","a15","a20","a25","a30","a35","a40","a45","a50","p75","p7","p65","p6","p55","p5"],"range":[35,40,35,45,45,30,40,35,15,12,12,80,90,72,80,60,65]},"legend":null}}},
{"data":{"name":"arrow"},"mark":{"type":"line","color":"#000","strokeWidth":1},
"encoding":{"detail":{"field":"s"},"order":{"field":"i","type":"quantitative"}}},
{"data":{"name":"arrow"},"transform":[{"filter":"datum.i == 1 && datum.s == 'aq'"}],"mark":{"type":"point","shape":"triangle-up","filled":true,"color":"#000","size":14,"angle":48,"opacity":1}},
{"data":{"name":"arrow"},"transform":[{"filter":"datum.i == 1 && datum.s == 'ph'"}],"mark":{"type":"point","shape":"triangle-up","filled":true,"color":"#000","size":14,"angle":261,"opacity":1}},
{"data":{"name":"annb"},"mark":{"type":"text","fontSize":21,"fontWeight":"bold","fontStyle":"italic","align":"center","baseline":"middle","color":"#000"},"encoding":{"text":{"field":"t"}}},
{"data":{"name":"anni"},"mark":{"type":"text","fontSize":21,"fontStyle":"italic","align":"center","baseline":"middle","color":"#000"},"encoding":{"text":{"field":"t"}}},
{"data":{"name":"legc"},"mark":{"type":"point","shape":"circle","filled":true,"stroke":"#000","strokeWidth":1.2,"size":215,"opacity":1},
"encoding":{"fill":{"field":"r","type":"nominal","scale":{"domain":["N","C"],"range":["#cccccc","#6b6b6b"]},"legend":null}}},
{"data":{"name":"legr"},"mark":{"type":"rule","strokeWidth":1.2},
"encoding":{"x2":{"field":"x2"},"stroke":{"field":"v","type":"nominal","scale":{"domain":["pH","aq"],"range":["#a52a2a","#2424ee"]},"legend":null}}},
{"data":{"name":"legt"},"mark":{"type":"text","fontSize":23,"align":"left","baseline":"middle","color":"#000"},"encoding":{"text":{"field":"t"}}}
]
}
